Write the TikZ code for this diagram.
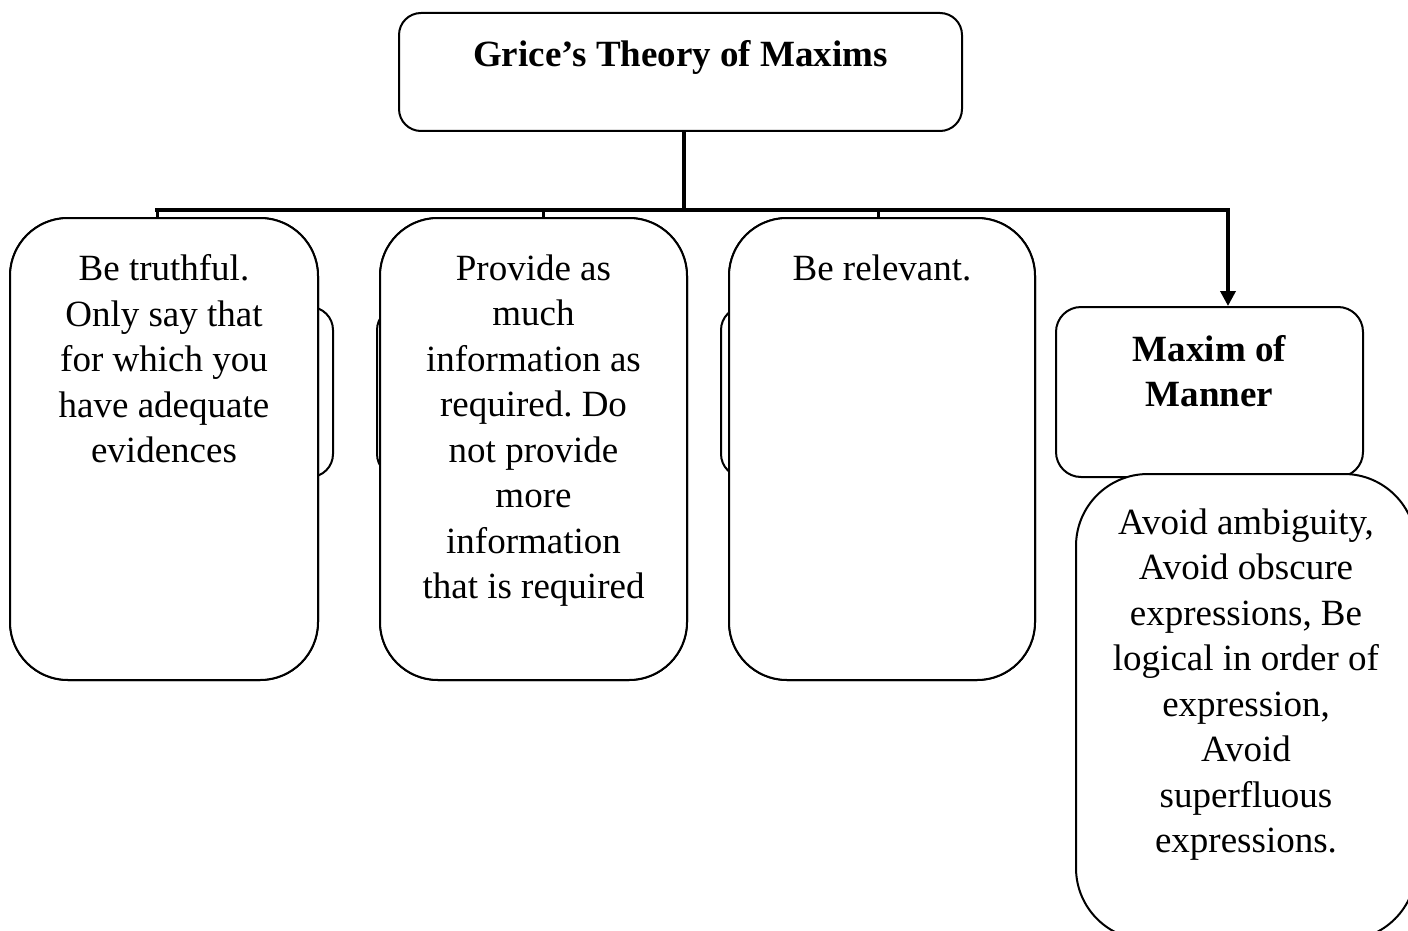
\documentclass[tikz,border=0pt]{standalone}
\usepackage{fontspec}
\setmainfont{Liberation Serif}
\usetikzlibrary{arrows.meta}
\frenchspacing
\begin{document}
\begin{tikzpicture}[x=1pt,y=-1pt,
  box/.style={draw, line width=2pt, fill=white, rounded corners=#1, inner sep=0pt},
  box/.default=22pt,
  txt/.style={inner sep=0pt, align=center, anchor=north, font=\fontsize{37}{45.5}\selectfont},
  conn/.style={line width=3.5pt},
  bus/.style={line width=4.5pt, line cap=rect},
  tick/.style={line width=3pt}]
\useasboundingbox (0,0) rectangle (1408,931);
\clip (0,0) rectangle (1408,931);
% hidden boxes
\node[box=23pt, minimum width=307pt, minimum height=170pt] (h1) at (179.5,392) {};
\node[box=23pt, minimum width=307pt, minimum height=170pt] (h2) at (530.5,392) {};
\node[box=23pt, minimum width=307pt, minimum height=170pt] (h3) at (874.5,392) {};
% title
\node[box=22pt, minimum width=563pt, minimum height=118pt] (top) at (680.5,72) {};
% front boxes
\coordinate (j0) at (684,210);
\coordinate (j1) at (157,210);
\coordinate (j2) at (543,210);
\coordinate (j3) at (878,210);
\coordinate (j4) at (1228,210);
\node[box=58pt, minimum width=308pt, minimum height=462pt] (b1) at (164,449) {};
\node[box=58pt, minimum width=307pt, minimum height=462pt] (b2) at (533.5,449) {};
\node[box=58pt, minimum width=306pt, minimum height=462pt] (b3) at (882,449) {};
\node[box=25pt, minimum width=307pt, minimum height=170pt] (m) at (1209.5,392) {};
% connectors
\draw[conn] (top.south -| j0) -- (j0);
\draw[bus] (j1) -- (j4);
\draw[tick] (j1) -- (j1 |- b1.north);
\draw[tick] (j2) -- (j2 |- b2.north);
\draw[tick] (j3) -- (j3 |- b3.north);
\draw[conn, -{Triangle[length=15pt,width=15pt]}] (j4) -- (j4 |- m.north);
% redraw front boxes over the tick ends
\node[box=58pt, minimum width=308pt, minimum height=462pt] at (b1) {};
\node[box=58pt, minimum width=307pt, minimum height=462pt] at (b2) {};
\node[box=58pt, minimum width=306pt, minimum height=462pt] at (b3) {};
\node[box=72pt, minimum width=340pt, minimum height=466pt] (d) at (1246,707) {};
% texts
\node[txt, yshift=-28pt] (ttop) at (top.north) {\bfseries Grice’s Theory of Maxims};
\node[txt, yshift=-37.5pt] (t1) at (b1.north) {Be truthful.\\Only say that\\for which you\\have adequate\\evidences};
\node[txt, yshift=-37.5pt] (t2) at (b2.north) {Provide as\\much\\information as\\required. Do\\not provide\\more\\information\\that is required};
\node[txt, yshift=-37.5pt] (t3) at (b3.north) {Be relevant.};
\node[txt, yshift=-29pt] (tm) at (m.north) {\bfseries Maxim of\\\bfseries Manner};
\node[txt, yshift=-35.5pt] (td) at (d.north) {Avoid ambiguity,\\Avoid obscure\\expressions, Be\\logical in order of\\expression,\\Avoid\\superfluous\\expressions.};
\end{tikzpicture}
\end{document}
